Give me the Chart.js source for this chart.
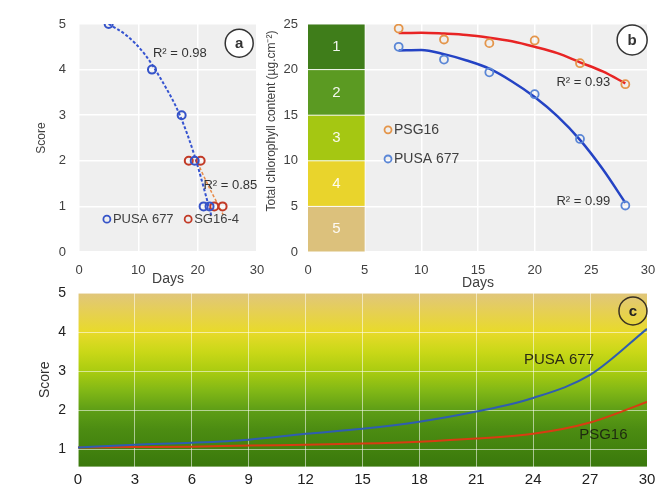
<!DOCTYPE html>
<html>
<head>
<meta charset="utf-8">
<script src="https://cdn.jsdelivr.net/npm/chart.js@4.4.1/dist/chart.umd.min.js"></script>
<style>
  html, body { margin: 0; padding: 0; background: #fff; }
  body { width: 656px; height: 487px; position: relative; overflow: hidden; }
  canvas { position: absolute; }
  #chartA { left: 0; top: 0; }
  #chartB { left: 262px; top: 0; }
  #chartC { left: 0; top: 272px; }
</style>
</head>
<body>
<canvas id="chartA" width="280" height="295"></canvas>
<canvas id="chartB" width="406" height="295"></canvas>
<canvas id="chartC" width="664" height="215"></canvas>
<script>
// ---- panel a : visual score vs days
const aPusaDays = [5, 12.3, 17.3, 19.5, 21, 22];
const aPusaScore = [5, 4, 3, 2, 1, 1];
const aSgDays = [18.5, 20.5, 22.8, 24.2];
const aSgScore = [2, 2, 1, 1];
const aPusaFitDays = [5, 8, 11, 14, 17, 19.5, 22.3];
const aPusaFitScore = [5, 4.75, 4.35, 3.75, 3.0, 2.1, 0.8];
const aSgFitDays = [20, 22, 24.3];
const aSgFitScore = [1.95, 1.4, 0.82];

// ---- panel b : chlorophyll vs days
const bDays = [8, 12, 16, 20, 24, 28];
const bPsg = [24.5, 23.3, 22.9, 23.2, 20.7, 18.4];
const bPusa = [22.5, 21.1, 19.7, 17.3, 12.4, 5.1];
const bFitDays = [8, 10, 12, 14, 16, 18, 20, 22, 24, 26, 28];
const bPsgFit = [24.0, 24.05, 23.95, 23.8, 23.5, 23.1, 22.5, 21.8, 20.8, 19.8, 18.5];
const bPusaFit = [22.1, 22.15, 21.7, 21.0, 20.1, 18.7, 17.0, 14.9, 12.3, 9.1, 5.4];
const bandNames = ['1', '2', '3', '4', '5'];
const bandLow = [20, 15, 10, 5, 0];
const bandHigh = [25, 20, 15, 10, 5];
const bandDayFrom = 0;
const bandDayTo = 5;

// ---- panel c : predicted score
const cDays = [0, 3, 6, 9, 12, 15, 18, 21, 24, 27, 30];
const cPusa = [1.04, 1.11, 1.16, 1.24, 1.39, 1.52, 1.70, 1.96, 2.31, 2.90, 4.08];
const cPsg = [1.04, 1.05, 1.06, 1.09, 1.11, 1.14, 1.19, 1.27, 1.39, 1.68, 2.21];
const cScoreTicks = [1, 2, 3, 4, 5];

const FONT = "'Liberation Sans', Arial, sans-serif";
Chart.defaults.font.family = FONT;
Chart.defaults.color = '#404040';

const pts = (xs, ys) => xs.map((x, i) => ({ x: x, y: ys[i] }));

const bandColors = ['#3f7d1a', '#5b9a22', '#a5c712', '#e9d42c', '#dcc17c'];
const cBgStops = [[5, '#e0c67c'], [4.5, '#e6d052'], [4, '#e8da2a'], [3.5, '#cad818'],
  [3, '#aacc10'], [2.5, '#82b816'], [2, '#5e9e16'], [1.5, '#4c8c12'], [1, '#42820e'], [0.55, '#3a780c']];

// grey plot background
function plotBg(color) {
  return {
    id: 'plotBg',
    beforeDraw(chart) {
      const { ctx, chartArea: { left, top, width, height } } = chart;
      ctx.save();
      ctx.fillStyle = color;
      ctx.fillRect(left, top, width, height);
      ctx.restore();
    }
  };
}

// gradient background for panel c
function gradBg(stops) {
  return {
    id: 'gradBg',
    beforeDraw(chart) {
      const { ctx, chartArea: { left, top, width, height }, scales: { y } } = chart;
      const y0 = y.getPixelForValue(y.max), y1 = y.getPixelForValue(y.min);
      const g = ctx.createLinearGradient(0, y0, 0, y1);
      stops.forEach(([v, c]) => {
        g.addColorStop(Math.min(1, Math.max(0, (y.getPixelForValue(v) - y0) / (y1 - y0))), c);
      });
      ctx.save();
      ctx.fillStyle = g;
      ctx.fillRect(left, top, width, height);
      ctx.restore();
    }
  };
}

// coloured score bands in panel b
const bandsPlugin = {
  id: 'bands',
  beforeDatasetsDraw(chart) {
    const { ctx, scales: { x, y } } = chart;
    ctx.save();
    const l = x.getPixelForValue(bandDayFrom), r = x.getPixelForValue(bandDayTo);
    bandNames.forEach((name, i) => {
      const t = y.getPixelForValue(bandHigh[i]), b = y.getPixelForValue(bandLow[i]);
      ctx.fillStyle = bandColors[i];
      ctx.fillRect(l, t + 0.5, r - l, b - t - 1);
      ctx.fillStyle = 'rgba(255,255,255,0.92)';
      ctx.font = '15px ' + FONT;
      ctx.textAlign = 'center';
      ctx.textBaseline = 'middle';
      ctx.fillText(name, (l + r) / 2, (t + b) / 2);
    });
    ctx.restore();
  }
};

// text notes and circled panel letters
function notes(items) {
  return {
    id: 'notes',
    afterDatasetsDraw(chart) {
      const { ctx, scales: { x, y } } = chart;
      ctx.save();
      items.forEach((it) => {
        const px = x.getPixelForValue(it.x), py = y.getPixelForValue(it.y);
        if (it.circle) {
          ctx.beginPath();
          ctx.arc(px, py, it.circle, 0, Math.PI * 2);
          if (it.fill) { ctx.fillStyle = it.fill; ctx.fill(); }
          ctx.lineWidth = 1.5;
          ctx.strokeStyle = it.stroke || '#333';
          ctx.stroke();
        }
        ctx.font = it.font;
        ctx.fillStyle = it.color || '#333';
        ctx.textAlign = 'center';
        ctx.textBaseline = 'middle';
        ctx.fillText(it.text, px, py + (it.circle ? 1 : 0));
      });
      ctx.restore();
    }
  };
}

// legend drawn inside the plot
function inLegend(font, entries) {
  return {
    id: 'inLegend',
    afterDatasetsDraw(chart) {
      const { ctx, scales: { x, y } } = chart;
      ctx.save();
      ctx.font = font;
      ctx.textBaseline = 'middle';
      ctx.textAlign = 'left';
      entries.forEach((e) => {
        const ds = chart.data.datasets[e.dataset];
        const px = x.getPixelForValue(e.x), py = y.getPixelForValue(e.y);
        ctx.beginPath();
        ctx.arc(px, py, 3.5, 0, Math.PI * 2);
        ctx.lineWidth = 1.8;
        ctx.strokeStyle = ds.borderColor;
        ctx.stroke();
        ctx.fillStyle = '#404040';
        ctx.fillText(ds.label, px + 6, py + 0.5);
      });
      ctx.restore();
    }
  };
}

// rotated y title for panel b
function sideTitle(text, x, shift, font) {
  return {
    id: 'sideTitle',
    afterDraw(chart) {
      const { ctx, chartArea } = chart;
      ctx.save();
      ctx.translate(x, (chartArea.top + chartArea.bottom) / 2 + shift);
      ctx.rotate(-Math.PI / 2);
      ctx.font = font;
      ctx.fillStyle = '#404040';
      ctx.textAlign = 'center';
      ctx.textBaseline = 'middle';
      ctx.fillText(text, 0, 0);
      ctx.restore();
    }
  };
}

const basePlugins = { legend: { display: false }, tooltip: { enabled: false } };

// ================= panel a
new Chart(document.getElementById('chartA'), {
  type: 'scatter',
  data: {
    datasets: [
      { label: 'PUSA 677', data: pts(aPusaDays, aPusaScore), borderColor: '#3553c8',
        backgroundColor: 'transparent', pointRadius: 4, borderWidth: 2 },
      { label: 'SG16-4', data: pts(aSgDays, aSgScore), borderColor: '#c23a26',
        backgroundColor: 'transparent', pointRadius: 4, borderWidth: 2 },
      { label: 'fit1', data: pts(aPusaFitDays, aPusaFitScore), showLine: true, pointRadius: 0,
        borderColor: '#3553d0', borderWidth: 2, borderDash: [3, 2], cubicInterpolationMode: 'monotone' },
      { label: 'fit2', data: pts(aSgFitDays, aSgFitScore), showLine: true, pointRadius: 0,
        borderColor: '#e88a48', borderWidth: 1.5, borderDash: [3, 2], tension: 0.3 }
    ]
  },
  options: {
    responsive: false, animation: false, devicePixelRatio: 1,
    layout: { padding: { top: 24, right: 23, left: 0, bottom: 0 } },
    scales: {
      x: {
        min: 0, max: 30,
        ticks: { stepSize: 10, padding: 11, font: { size: 13 }, color: '#404040' },
        grid: { color: '#ffffff', lineWidth: 1.5, drawTicks: false },
        border: { display: false },
        title: { display: true, text: 'Days', font: { size: 14 }, color: '#404040', padding: { bottom: 7, top: 0 } },
        afterFit: (s) => { s.height = 43; }
      },
      y: {
        min: 0, max: 5,
        ticks: { stepSize: 1, padding: 13, font: { size: 13 }, color: '#404040' },
        grid: { color: '#ffffff', lineWidth: 1.5, drawTicks: false },
        border: { display: false },
        title: { display: true, text: 'Score', font: { size: 12 }, color: '#404040', padding: { top: 34, bottom: 0 } },
        afterFit: (s) => { s.width = 79; }
      }
    },
    plugins: basePlugins
  },
  plugins: [
    plotBg('#efefef'),
    notes([
      { text: 'R² = 0.98', x: 17.0, y: 4.36, font: '13px ' + FONT },
      { text: 'R² = 0.85', x: 25.5, y: 1.47, font: '13px ' + FONT },
      { text: 'a', x: 27, y: 4.58, circle: 14, fill: '#ffffff', font: 'bold 15px ' + FONT }
    ]),
    inLegend('13px ' + FONT, [
      { dataset: 0, x: 4.7, y: 0.72 },
      { dataset: 1, x: 18.4, y: 0.72 }
    ])
  ]
});

// ================= panel b
new Chart(document.getElementById('chartB'), {
  type: 'scatter',
  data: {
    datasets: [
      { label: 'PSG16', data: pts(bDays, bPsg), borderColor: '#e4954a',
        backgroundColor: 'transparent', pointRadius: 4, borderWidth: 1.8 },
      { label: 'PUSA 677', data: pts(bDays, bPusa), borderColor: '#5a86d6',
        backgroundColor: 'transparent', pointRadius: 4, borderWidth: 1.8 },
      { label: 'fitPsg', data: pts(bFitDays, bPsgFit), showLine: true, pointRadius: 0,
        borderColor: '#e82424', borderWidth: 2.5, cubicInterpolationMode: 'monotone' },
      { label: 'fitPusa', data: pts(bFitDays, bPusaFit), showLine: true, pointRadius: 0,
        borderColor: '#2443c4', borderWidth: 2.5, cubicInterpolationMode: 'monotone' }
    ]
  },
  options: {
    responsive: false, animation: false, devicePixelRatio: 1,
    layout: { padding: { top: 24, right: 20, left: 0, bottom: 0 } },
    scales: {
      x: {
        min: 0, max: 30,
        ticks: { stepSize: 5, padding: 11, font: { size: 13 }, color: '#404040' },
        grid: { color: '#ffffff', lineWidth: 1.5, drawTicks: false },
        border: { display: false },
        title: { display: true, text: 'Days', font: { size: 14 }, color: '#404040', padding: { bottom: 3, top: 0 } },
        afterFit: (s) => { s.height = 43; }
      },
      y: {
        min: 0, max: 25,
        ticks: { stepSize: 5, padding: 10, font: { size: 13 }, color: '#404040' },
        grid: { color: '#ffffff', lineWidth: 1.5, drawTicks: false },
        border: { display: false },
        afterFit: (s) => { s.width = 46; }
      }
    },
    plugins: basePlugins
  },
  plugins: [
    plotBg('#efefef'),
    bandsPlugin,
    sideTitle('Total chlorophyll content (µg.cm⁻²)', 10, -17, '12px ' + FONT),
    notes([
      { text: 'R² = 0.93', x: 24.3, y: 18.6, font: '13px ' + FONT },
      { text: 'R² = 0.99', x: 24.3, y: 5.5, font: '13px ' + FONT },
      { text: 'b', x: 28.6, y: 23.25, circle: 15, fill: '#ffffff', font: 'bold 15px ' + FONT }
    ]),
    inLegend('14px ' + FONT, [
      { dataset: 0, x: 7.06, y: 13.4 },
      { dataset: 1, x: 7.06, y: 10.2 }
    ])
  ]
});

// ================= panel c
new Chart(document.getElementById('chartC'), {
  type: 'scatter',
  data: {
    datasets: [
      { label: 'PUSA 677', data: pts(cDays, cPusa), showLine: true, pointRadius: 0,
        borderColor: '#2f5db0', borderWidth: 2, cubicInterpolationMode: 'monotone' },
      { label: 'PSG16', data: pts(cDays, cPsg), showLine: true, pointRadius: 0,
        borderColor: '#d83c12', borderWidth: 2, cubicInterpolationMode: 'monotone' }
    ]
  },
  options: {
    responsive: false, animation: false, devicePixelRatio: 1,
    layout: { padding: { top: 21, right: 17, left: 0, bottom: 0 } },
    scales: {
      x: {
        min: 0, max: 30,
        ticks: { stepSize: 3, padding: 4, font: { size: 15 }, color: '#202020' },
        grid: { color: 'rgba(255,255,255,0.55)', lineWidth: 1, drawTicks: false },
        border: { display: false },
        afterFit: (s) => { s.height = 20; }
      },
      y: {
        min: 0.55, max: 5,
        afterBuildTicks: (s) => { s.ticks = cScoreTicks.map((v) => ({ value: v })); },
        ticks: { padding: 12, font: { size: 14 }, color: '#202020' },
        grid: { color: 'rgba(255,255,255,0.55)', lineWidth: 1, drawTicks: false },
        border: { display: false },
        title: { display: true, text: 'Score', font: { size: 14 }, color: '#303030', padding: { top: 37, bottom: 0 } },
        afterFit: (s) => { s.width = 78; }
      }
    },
    plugins: basePlugins
  },
  plugins: [
    gradBg(cBgStops),
    notes([
      { text: 'PUSA 677', x: 25.36, y: 3.29, font: '15px ' + FONT, color: '#2a2a14' },
      { text: 'PSG16', x: 27.7, y: 1.37, font: '15px ' + FONT, color: '#1e2a10' },
      { text: 'c', x: 29.26, y: 4.54, circle: 14, stroke: '#3a3222', font: 'bold 15px ' + FONT, color: '#222' }
    ])
  ]
});
</script>
</body>
</html>
